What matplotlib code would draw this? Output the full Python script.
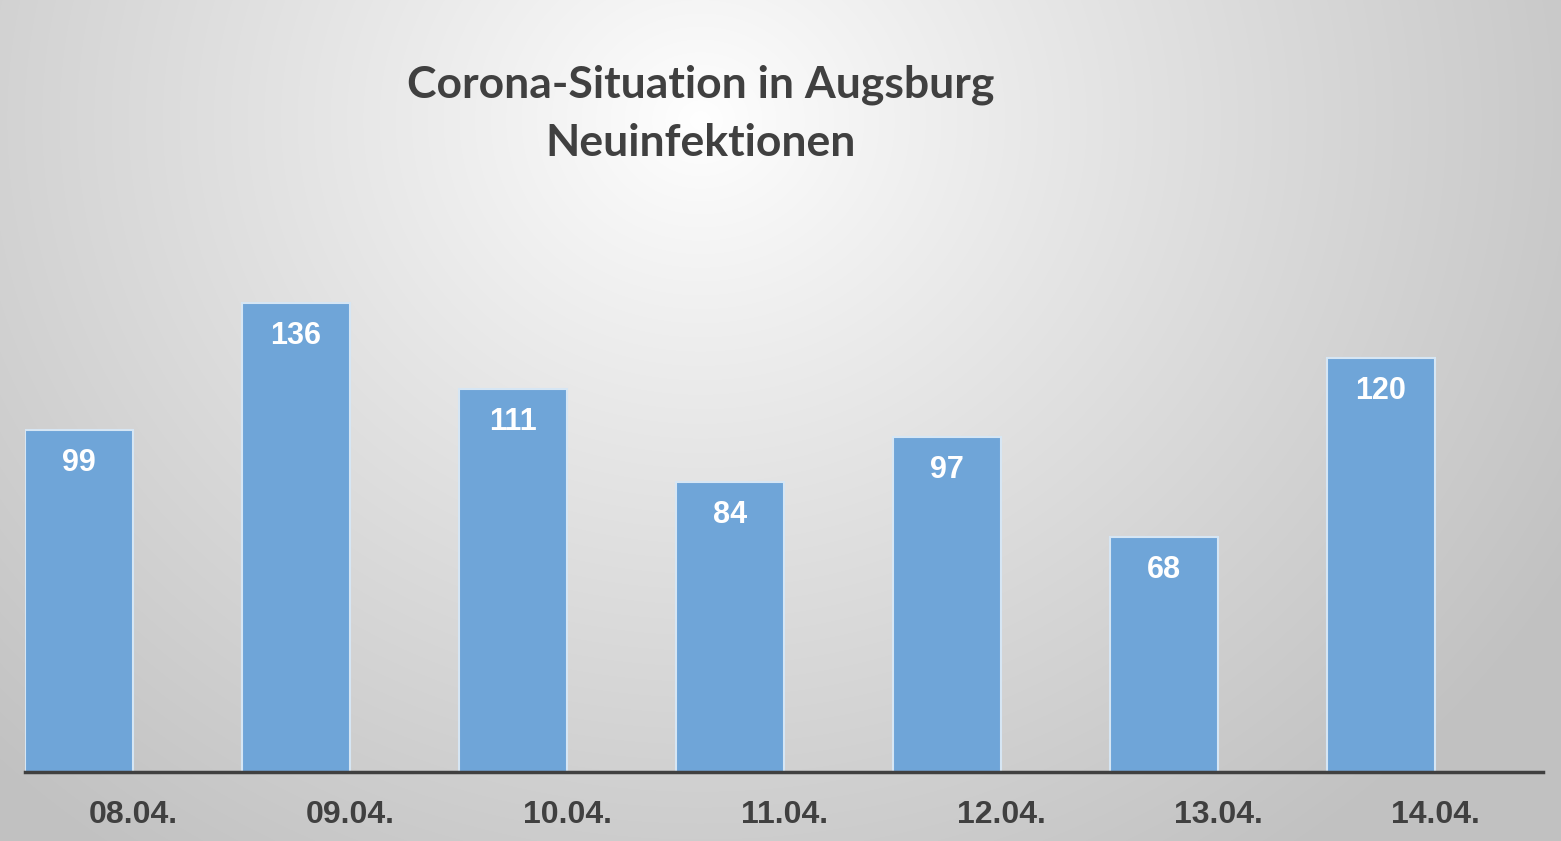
import numpy as np
import matplotlib
matplotlib.use("Agg")
import matplotlib.pyplot as plt

categories = ["08.04.", "09.04.", "10.04.", "11.04.", "12.04.", "13.04.", "14.04."]
values = [99, 136, 111, 84, 97, 68, 120]
title_lines = ["Corona-Situation in Augsburg", "Neuinfektionen"]

W, H = 1561, 841
fig = plt.figure(figsize=(W / 100, H / 100), dpi=100)

# radial gradient background
bg = fig.add_axes([0, 0, 1, 1])
yy, xx = np.mgrid[0:H, 0:W]
cx, cy = 700, 120
d = np.sqrt(((xx - cx) / 1000.0) ** 2 + ((yy - cy) / 900.0) ** 2)
d = np.clip(d, 0, 1)
v = 1.0 - (1.0 - 0.76) * d ** 0.9
img = np.dstack([v, v, v])
bg.imshow(img, extent=[0, W, H, 0], aspect="auto", interpolation="bilinear")
bg.set_xlim(0, W)
bg.set_ylim(H, 0)
bg.axis("off")

# main axes: left 25px, right 1543px, bottom 772px, top 250px
left, right, bottom, top = 25, 1543, 772, 250
ax = fig.add_axes([left / W, 1 - bottom / H, (right - left) / W, (bottom - top) / H])
ax.patch.set_alpha(0)
x = np.arange(len(categories))
ax.set_xlim(-0.249, 6.747)
ax.set_ylim(0, (bottom - top) / 3.452)
bars = ax.bar(x, values, width=0.5, color="#6FA5D8", edgecolor="#D6E6F4", linewidth=1.5, zorder=2)
for xi, val in zip(x, values):
    ax.annotate(str(val), (xi, val), xytext=(0, -33), textcoords="offset pixels",
                ha="center", va="center", color="white", fontsize=22,
                fontweight="bold", family="Liberation Sans", zorder=3)

for s in ["top", "right", "left"]:
    ax.spines[s].set_visible(False)
ax.spines["bottom"].set_color("#404040")
ax.spines["bottom"].set_linewidth(2.5)
ax.set_yticks([])
ax.set_xticks(x + 0.25)
ax.set_xticklabels(categories, fontsize=23, fontweight="bold", color="#404040",
                   family="Liberation Sans")
ax.tick_params(axis="x", length=0, pad=20.5)

# title
fig.text(701 / W, 1 - 85 / H, title_lines[0], ha="center", va="center", fontsize=32,
         fontweight="bold", color="#404040", family="Lato")
fig.text(701 / W, 1 - 143 / H, title_lines[1], ha="center", va="center", fontsize=32,
         fontweight="bold", color="#404040", family="Lato")

fig.savefig("out.png", dpi=100)
